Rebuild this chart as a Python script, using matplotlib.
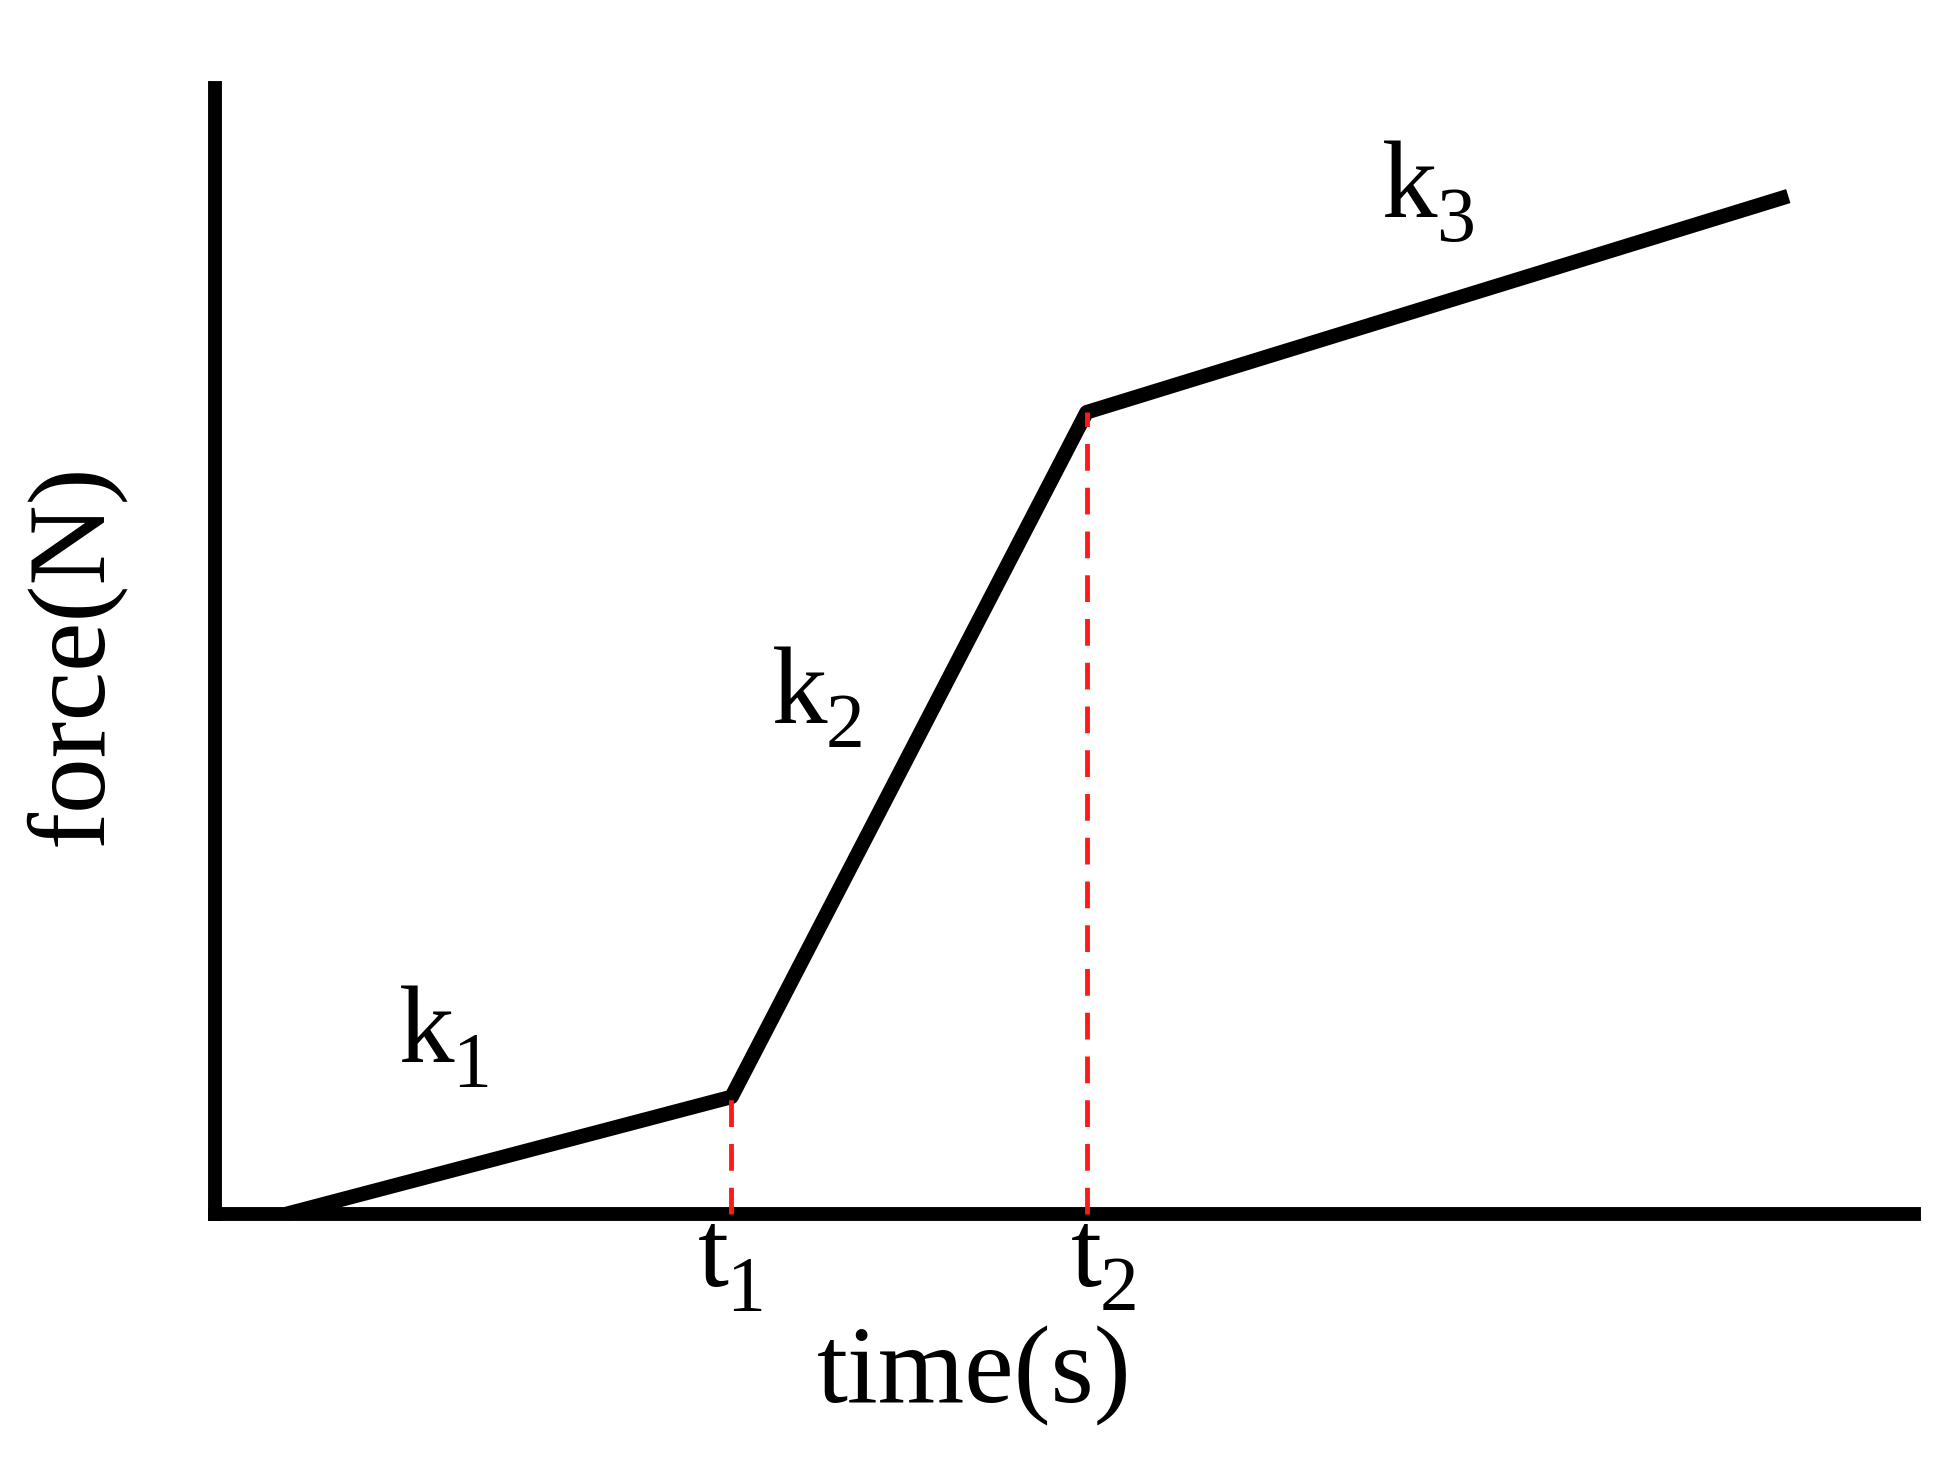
import numpy as np
import matplotlib
matplotlib.use("Agg")
import matplotlib.pyplot as plt

plt.rcParams['font.family'] = ['Liberation Serif', 'DejaVu Serif']

# piecewise force curve (arbitrary units)
time_pts = [0.42, 3.04, 5.13, 9.26]
force_pts = [0.0, 1.04, 7.12, 9.04]
t_marks = [3.04, 5.13]
t_subs = ['1', '2']
k_subs = ['1', '2', '3']

W, H = 1959, 1472
fig = plt.figure(figsize=(W/100, H/100), dpi=100)
x0, y0, x1, y1 = 215, 1214, 1914, 88
ax = fig.add_axes([x0/W, (H-y0)/H, (x1-x0)/W, (y0-y1)/H])
ax.set_xlim(0, 10)
ax.set_ylim(0, 10)

ax.plot(time_pts, force_pts, color='black', lw=10.5, solid_joinstyle='round',
        solid_capstyle='butt', zorder=3, clip_on=False)

for tm in t_marks:
    fk = np.interp(tm, time_pts, force_pts)
    ax.plot([tm, tm], [0, fk], color='#ff1a1a', lw=3.5, dashes=(5.5, 3.5),
            zorder=5, clip_on=False)

for s in ['top', 'right']:
    ax.spines[s].set_visible(False)
for s in ['left', 'bottom']:
    ax.spines[s].set_linewidth(10)
    ax.spines[s].set_color('black')
    ax.spines[s].set_capstyle('projecting')
ax.set_xticks([])
ax.set_yticks([])

fs = 80
renderer = fig.canvas.get_renderer()


def sub_label(x, y, main, sub):
    t = ax.text(x, y, main, fontsize=fs, ha='left', va='baseline', clip_on=False)
    bb = t.get_window_extent(renderer)
    dx = bb.width * 72 / fig.dpi - 1.5
    ax.annotate(sub, xy=(x, y), xytext=(dx, -17), textcoords='offset points',
                fontsize=fs * 0.7, ha='left', va='baseline', annotation_clip=False)


# k labels
k_pos = [(1.08, 1.35), (3.28, 4.36), (6.87, 8.85)]
for sub, (kx, ky) in zip(k_subs, k_pos):
    sub_label(kx, ky, 'k', sub)

# t labels under axis
for sub, tx in zip(t_subs, [2.84, 5.04]):
    sub_label(tx, -0.64, 't', sub)

ax.text(4.47, -1.67, 'time(s)', fontsize=fs, ha='center', va='baseline')
ax.text(-0.83, 4.97, 'force(N)', fontsize=fs, ha='center', va='center', rotation=90)

fig.savefig('out.png', dpi=100, facecolor='white')
